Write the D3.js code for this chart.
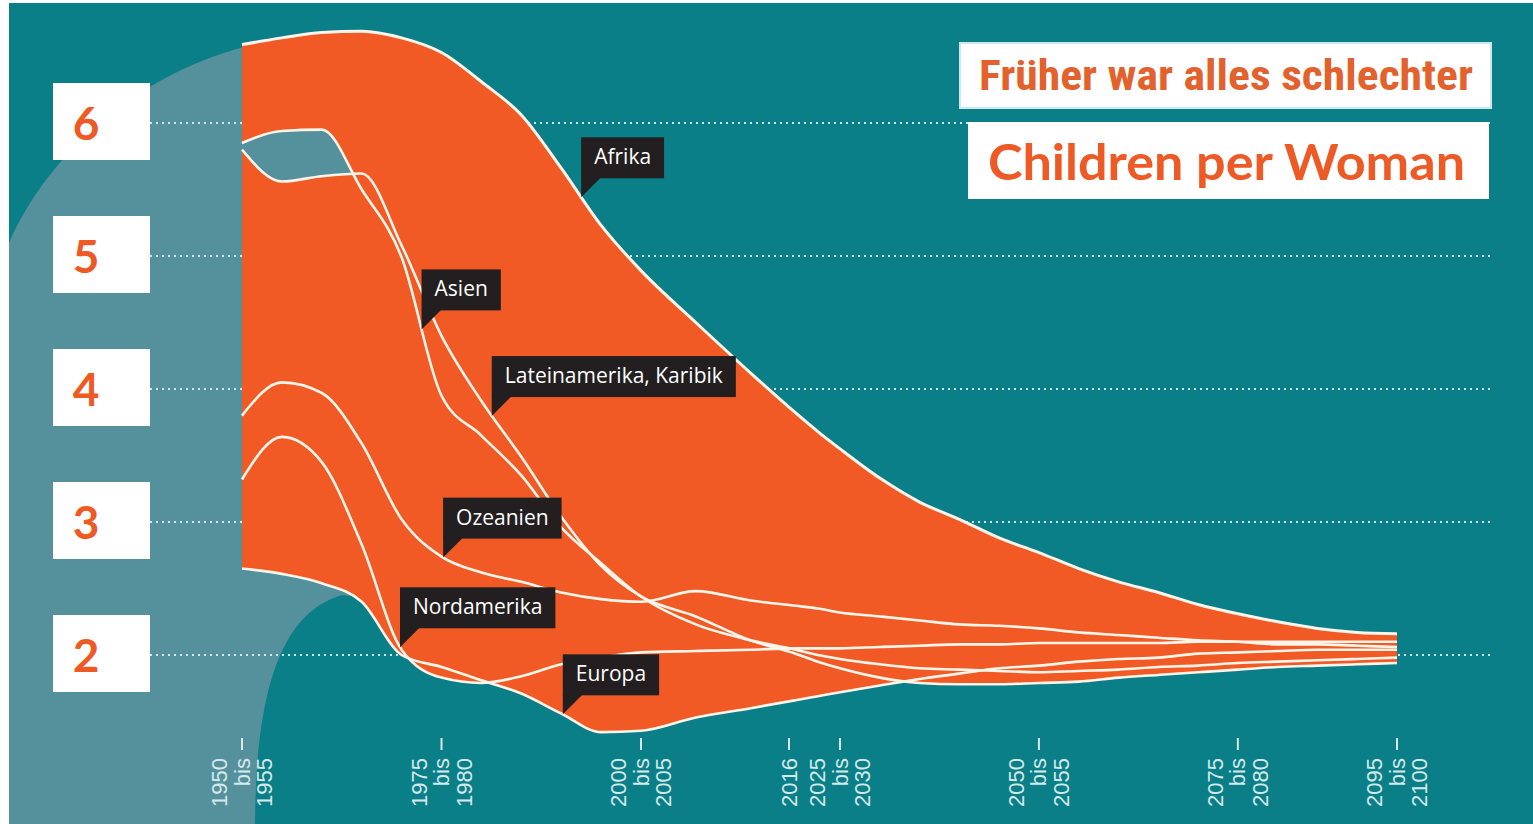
<!DOCTYPE html>
<html><head><meta charset="utf-8">
<script src="https://cdn.jsdelivr.net/npm/d3@7"></script>
<style>html,body{margin:0;padding:0;background:#fff;overflow:hidden}</style>
</head><body>
<svg id="chart" width="1533" height="824"></svg>
<script>
// ---- data (children per woman, 5-year periods, mid-year) ----
const periods = [1952.5,1957.5,1962.5,1967.5,1972.5,1977.5,1982.5,1987.5,1992.5,1997.5,
                 2002.5,2007.5,2012.5,2017.5,2022.5,2027.5,2032.5,2037.5,2042.5,2047.5,
                 2052.5,2057.5,2062.5,2067.5,2072.5,2077.5,2082.5,2087.5,2092.5,2097.5];
const afrika = [6.59,6.64,6.68,6.69,6.64,6.53,6.31,6.06,5.66,5.23,4.89,4.50,4.12,3.82,3.68,3.55,3.33,3.15,3.02,2.88,2.77,2.65,2.55,2.47,2.38,2.31,2.25,2.20,2.17,2.16];
const asien = [5.85,5.94,5.95,5.50,4.99,3.95,3.65,3.35,2.96,2.69,2.44,2.23,2.11,2.04,2.00,1.97,1.93,1.90,1.89,1.88,1.87,1.88,1.89,1.91,1.92,1.94,1.95,1.96,1.97,1.98];
const lateinamerika = [5.80,5.56,5.60,5.62,5.08,4.40,3.91,3.49,3.04,2.67,2.44,2.29,2.11,2.01,1.95,1.90,1.83,1.79,1.78,1.78,1.79,1.80,1.83,1.85,1.87,1.89,1.91,1.92,1.93,1.94];
const ozeanien = [3.80,4.05,3.97,3.59,3.02,2.74,2.62,2.55,2.47,2.42,2.40,2.48,2.41,2.37,2.35,2.32,2.29,2.26,2.23,2.22,2.20,2.17,2.15,2.13,2.11,2.10,2.08,2.08,2.07,2.06];
const nordamerika = [3.32,3.64,3.45,2.83,2.04,1.83,1.79,1.84,1.93,1.98,2.02,2.03,2.04,2.05,2.05,2.05,2.06,2.07,2.08,2.08,2.09,2.09,2.09,2.09,2.10,2.10,2.10,2.10,2.10,2.10];
const europa = [2.65,2.61,2.54,2.40,2.00,1.91,1.81,1.71,1.56,1.42,1.43,1.53,1.60,1.66,1.69,1.72,1.77,1.82,1.86,1.90,1.92,1.95,1.97,1.98,2.01,2.02,2.03,2.04,2.04,2.04];

const yTicks = [2,3,4,5,6];
const tickYears = [1952.5,1977.5,2002.5,2016,2027.5,2052.5,2077.5,2097.5];
const tickLabels = [["1950","bis","1955"],["1975","bis","1980"],["2000","bis","2005"],["2016"],
                    ["2025","bis","2030"],["2050","bis","2055"],["2075","bis","2080"],["2095","bis","2100"]];

const calloutNames = ["Afrika","Asien","Lateinamerika, Karibik","Ozeanien","Nordamerika","Europa"];
const calloutYears = [1995,1975,1983.8,1977.7,1972.3,1992.7];

const title1 = "Früher war alles schlechter";
const title2 = "Children per Woman";

// ---- setup ----
const W = 1533, H = 824;
const C = {teal:"#0b7f87", light:"#55919c", orange:"#f15a24", line:"#fff5ea", grid:"#cfe9ea", label:"#d5e9eb", box:"#231f20"};
const svg = d3.select("#chart");
const defs = svg.append("defs");

const x = d3.scaleLinear().domain([1952.5, 2002.5, 2016, 2027.5, 2097.5]).range([242, 641, 789, 840, 1397]);
const y = d3.scaleLinear().domain([2, 6]).range([655, 123]);

const mk = arr => arr.map((v, i) => ({year: periods[i], v}));
const series = [
  {name:"Afrika", data: mk(afrika)},
  {name:"Asien", data: mk(asien)},
  {name:"Lateinamerika, Karibik", data: mk(lateinamerika)},
  {name:"Ozeanien", data: mk(ozeanien)},
  {name:"Nordamerika", data: mk(nordamerika)},
  {name:"Europa", data: mk(europa)}
];

const curve = d3.curveMonotoneX;
const line = d3.line().x(d => x(d.year)).y(d => y(d.v)).curve(curve);
const areaAbove = d3.area().x(d => x(d.year)).y0(0).y1(d => y(d.v)).curve(curve);

// background
svg.append("rect").attr("width", W).attr("height", H).attr("fill", "#fff");
svg.append("rect").attr("x", 9).attr("y", 3).attr("width", W - 9).attr("height", H - 3).attr("fill", C.teal);

// light decorative blob on the left
const x0 = x.range()[0];
const yTop = y(afrika[0]);
svg.append("path")
  .attr("d", `M9,243 C50,150 140,75 ${x0},${yTop+3} L350,${yTop+3} L350,596 L342,595 C285,612 256,680 255,${H} L9,${H} Z`)
  .attr("fill", C.light);

// gridlines
svg.append("g").selectAll("line").data(yTicks).join("line")
  .attr("x1", 150).attr("x2", 1492)
  .attr("y1", d => y(d)).attr("y2", d => y(d))
  .attr("stroke", C.grid).attr("stroke-width", 2.2).attr("stroke-dasharray", "2 4");

// orange body: below Afrika, above the lowest line
const clipAny = defs.append("clipPath").attr("id", "aboveAny");
series.forEach(s => clipAny.append("path").attr("d", areaAbove(s.data)));
svg.append("path")
  .attr("d", d3.area().x(d => x(d.year)).y0(H).y1(d => y(d.v)).curve(curve)(series[0].data))
  .attr("fill", C.orange)
  .attr("clip-path", "url(#aboveAny)");

// light gap where Asien lies above Lateinamerika in the 1950s
const nGap = 6;
defs.append("clipPath").attr("id", "aboveLat")
  .append("path").attr("d", areaAbove(series[2].data.slice(0, nGap)));
svg.append("path")
  .attr("d", d3.area().x(d => x(d.year)).y0((d, i) => y(lateinamerika[i])).y1(d => y(d.v)).curve(curve)(series[1].data.slice(0, nGap)))
  .attr("fill", C.light)
  .attr("clip-path", "url(#aboveLat)");

// white lines
const linePaths = svg.append("g").selectAll("path").data(series).join("path")
  .attr("d", d => line(d.data))
  .attr("fill", "none").attr("stroke", C.line)
  .attr("stroke-width", (d, i) => i === 0 ? 3 : 2.6)
  .attr("stroke-linejoin", "round");

// y labels
const yl = svg.append("g").selectAll("g").data(yTicks).join("g")
  .attr("transform", d => `translate(0,${y(d)})`);
yl.append("rect").attr("x", 53).attr("y", -40).attr("width", 97).attr("height", 77).attr("fill", "#fff");
yl.append("text").attr("x", 86).attr("y", 17).attr("text-anchor", "middle")
  .attr("font-family", "Lato, 'Noto Sans', sans-serif").attr("font-weight", 700).attr("font-size", 46)
  .attr("fill", "#ef5a24").text(d => d);

// x ticks and labels
const xt = svg.append("g").selectAll("g").data(tickYears).join("g")
  .attr("transform", d => `translate(${x(d)},0)`);
xt.append("line").attr("x1", 0).attr("x2", 0).attr("y1", 738).attr("y2", 750)
  .attr("stroke", C.label).attr("stroke-width", 2);
xt.each(function(d, i) {
  const lines = tickLabels[i];
  const n = lines.length;
  d3.select(this).selectAll("text").data(lines).join("text")
    .attr("transform", (t, j) => `translate(${(j - (n - 1) / 2) * 22.5},758) rotate(-90)`)
    .attr("text-anchor", "end").attr("dominant-baseline", "central")
    .attr("font-family", "'Liberation Sans', Arial, sans-serif").attr("font-size", 22)
    .attr("fill", C.label).text(t => t);
});

// callouts
function yAtX(node, tx) {
  let lo = 0, hi = node.getTotalLength();
  for (let k = 0; k < 40; k++) {
    const mid = (lo + hi) / 2;
    if (node.getPointAtLength(mid).x < tx) lo = mid; else hi = mid;
  }
  return node.getPointAtLength(hi).y;
}
const pathNodes = linePaths.nodes();
const cg = svg.append("g");
calloutNames.forEach((name, i) => {
  const tx = x(calloutYears[i]);
  const ty = yAtX(pathNodes[i], tx);
  const g = cg.append("g").attr("transform", `translate(${tx},${ty})`);
  const t = g.append("text").attr("x", 13).attr("y", -19 - 41 + 27)
    .attr("font-family", "'Open Sans', 'Noto Sans', sans-serif").attr("font-size", 21)
    .attr("fill", "#fff").text(name);
  const tw = t.node().getComputedTextLength();
  g.insert("rect", "text").attr("x", 0).attr("y", -19 - 41).attr("width", tw + 26).attr("height", 41).attr("fill", C.box);
  g.insert("path", "text").attr("d", "M0,0 L0,-20 L20,-20 Z").attr("fill", C.box);
});

// titles
svg.append("rect").attr("x", 960).attr("y", 43).attr("width", 531).attr("height", 65)
  .attr("fill", "#fff").attr("stroke", "#cfe9ea").attr("stroke-width", 2);
svg.append("text").attr("x", 979).attr("y", 90)
  .attr("font-family", "'Liberation Sans Narrow', 'Roboto Condensed', 'Liberation Sans', sans-serif")
  .attr("font-weight", 700).attr("font-size", 42)
  .attr("textLength", 494).attr("lengthAdjust", "spacingAndGlyphs")
  .attr("fill", "#e2612d").text(title1);
svg.append("rect").attr("x", 968).attr("y", 122).attr("width", 521).attr("height", 77).attr("fill", "#fff");
svg.append("text").attr("x", 988).attr("y", 180)
  .attr("font-family", "Lato, 'Noto Sans', sans-serif").attr("font-weight", 700).attr("font-size", 50)
  .attr("textLength", 477).attr("lengthAdjust", "spacingAndGlyphs")
  .attr("fill", "#ed5a25").text(title2);
</script>
</body></html>
